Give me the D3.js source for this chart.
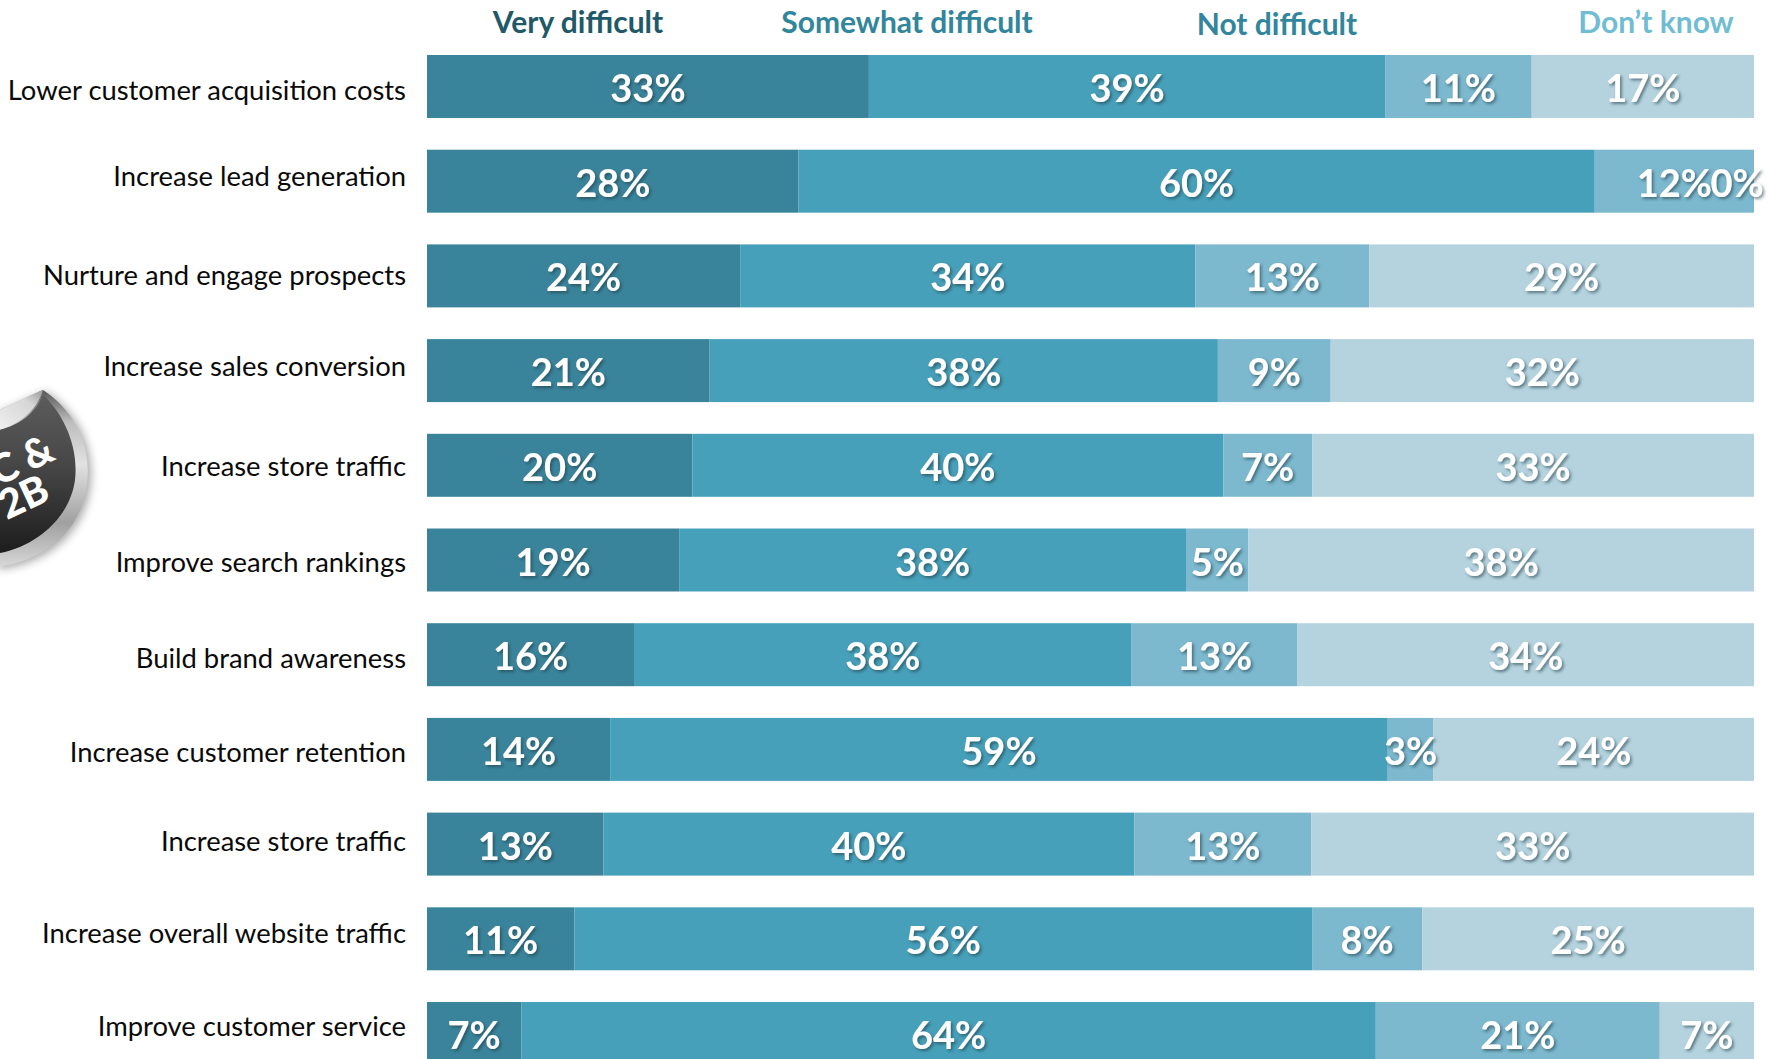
<!DOCTYPE html>
<html><head><meta charset="utf-8">
<script src="https://cdnjs.cloudflare.com/ajax/libs/d3/7.8.5/d3.min.js"></script>
<style>
html,body{margin:0;padding:0;background:#fff;overflow:hidden}
svg{display:block;font-family:Lato,"Open Sans",sans-serif}
</style></head><body>
<svg id="chart" width="1769" height="1059"></svg>
<script>
const categories = ["Lower customer acquisition costs","Increase lead generation","Nurture and engage prospects","Increase sales conversion","Increase store traffic","Improve search rankings","Build brand awareness","Increase customer retention","Increase store traffic ","Increase overall website traffic","Improve customer service"];
const seriesNames = ["Very difficult","Somewhat difficult","Not difficult","Don\u2019t know"];
const veryDifficult = [33.3,28,23.6,21.3,20,19,15.6,13.8,13.3,11.1,7.1];
const somewhatDifficult = [38.9,60,34.3,38.3,40,38.2,37.5,58.6,40,55.6,64.4];
const notDifficult = [11.05,12,13.1,8.5,6.7,4.7,12.5,3.45,13.35,8.3,21.4];
const dontKnow = [16.75,0,29,31.9,33.3,38.1,34.4,24.15,33.35,25,7.1];

const barColors = ["#3a849b","#47a0ba","#7cb8ce","#b5d3df"];
const headerColors = ["#215968","#31859c","#31859c","#70bdd3"];
const headerCentres = [578,907,1277,1656];
const headerBaselines = [33,33,35,33];
const labelNudge = [3,-5,-1,-4,1,2,3,2,-3,-5,-7];

const svg = d3.select("#chart");
const defs = svg.append("defs");
const shadow = defs.append("filter").attr("id","ts").attr("x","-20%").attr("y","-20%").attr("width","140%").attr("height","140%");
shadow.append("feDropShadow").attr("dx",1.8).attr("dy",2).attr("stdDeviation",1.4).attr("flood-color","#1d3b45").attr("flood-opacity",0.6);

const x = d3.scaleLinear().domain([0,100]).range([427,1754]);
const y = d3.scaleBand().domain(categories).range([55,1065]).paddingInner(0.335).paddingOuter(0).align(0);

const rows = categories.map((c,i)=>({category:c,a:veryDifficult[i],b:somewhatDifficult[i],c:notDifficult[i],d:dontKnow[i]}));
const stacked = d3.stack().keys(["a","b","c","d"])(rows);

// header legend
svg.append("g").selectAll("text").data(seriesNames).join("text")
  .attr("x",(d,i)=>headerCentres[i]).attr("y",(d,i)=>headerBaselines[i])
  .attr("text-anchor","middle").attr("font-weight",700).attr("font-size",30)
  .attr("fill",(d,i)=>headerColors[i]).text(d=>d);

// category labels
svg.append("g").selectAll("text").data(categories).join("text")
  .attr("x",406).attr("y",(d,i)=>y(d)+y.bandwidth()/2+labelNudge[i]*1.128+10)
  .attr("text-anchor","end").attr("font-size",27.4).attr("fill","#0a0a0a").text(d=>d.trim());

// bars
const groups = svg.append("g").selectAll("g").data(stacked).join("g").attr("fill",(d,i)=>barColors[i]);
groups.selectAll("rect").data(d=>d).join("rect")
  .attr("x",d=>x(d[0])).attr("width",d=>x(d[1])-x(d[0]))
  .attr("y",d=>y(d.data.category)).attr("height",y.bandwidth());

// value labels
const zeroLabelShift = -17;
const labels = svg.append("g").attr("filter","url(#ts)");
stacked.forEach(layer=>{
  labels.selectAll(null).data(layer).join("text")
    .attr("x",d=>(x(d[0])+x(d[1]))/2+((d[1]-d[0])===0?zeroLabelShift:0))
    .attr("y",d=>y(d.data.category)+y.bandwidth()/2+15.5)
    .attr("text-anchor","middle").attr("font-weight",700).attr("font-size",38)
    .attr("fill","#fff").text(d=>Math.round(d.data[layer.key])+"%");
});

// sticker
const rim = defs.append("linearGradient").attr("id","rim").attr("x1",0).attr("y1",0).attr("x2",0).attr("y2",1);
[[0,"#555"],[0.18,"#bdbdbd"],[0.42,"#e2e2e2"],[0.75,"#a0a0a0"],[1,"#d8d8d8"]].forEach(s=>rim.append("stop").attr("offset",s[0]).attr("stop-color",s[1]));
const face = defs.append("linearGradient").attr("id","face").attr("x1",0).attr("y1",0).attr("x2",0).attr("y2",1);
[[0,"#5c5c5c"],[0.45,"#464646"],[1,"#1c1c1c"]].forEach(s=>face.append("stop").attr("offset",s[0]).attr("stop-color",s[1]));
const curl = defs.append("linearGradient").attr("id","curl").attr("x1",0).attr("y1",1).attr("x2",1).attr("y2",0);
[[0,"#f2f2f2"],[0.7,"#d6d6d6"],[1,"#9a9a9a"]].forEach(s=>curl.append("stop").attr("offset",s[0]).attr("stop-color",s[1]));
const blur = defs.append("filter").attr("id","sb").attr("x","-30%").attr("y","-30%").attr("width","160%").attr("height","160%");
blur.append("feGaussianBlur").attr("stdDeviation",5);
const st = svg.append("g");
const disc = "M43,390 C74,410 92,445 87,484 C82,530 45,562 -5,567 L-5,412 Z";
st.append("path").attr("d",disc).attr("fill","#000").attr("opacity",0.35).attr("filter","url(#sb)").attr("transform","translate(3,2)");
st.append("path").attr("d",disc).attr("fill","url(#rim)");
st.append("path").attr("d","M43,395 C62,412 79,445 75,480 C70,518 35,548 -5,554 L-5,430 C15,428 35,415 43,395 Z").attr("fill","url(#face)");
st.append("path").attr("d","M43,390 C38,408 20,426 -5,431 L-5,412 C10,405 28,396 43,390 Z").attr("fill","url(#curl)");
const badge = st.append("g").attr("fill","#fff").attr("font-weight",900).attr("font-size",40).attr("text-anchor","end");
badge.append("text").attr("transform","translate(57,459) rotate(-25)").text("C &");
badge.append("text").attr("transform","translate(52,499) rotate(-25)").text("2B");
</script>
</body></html>
